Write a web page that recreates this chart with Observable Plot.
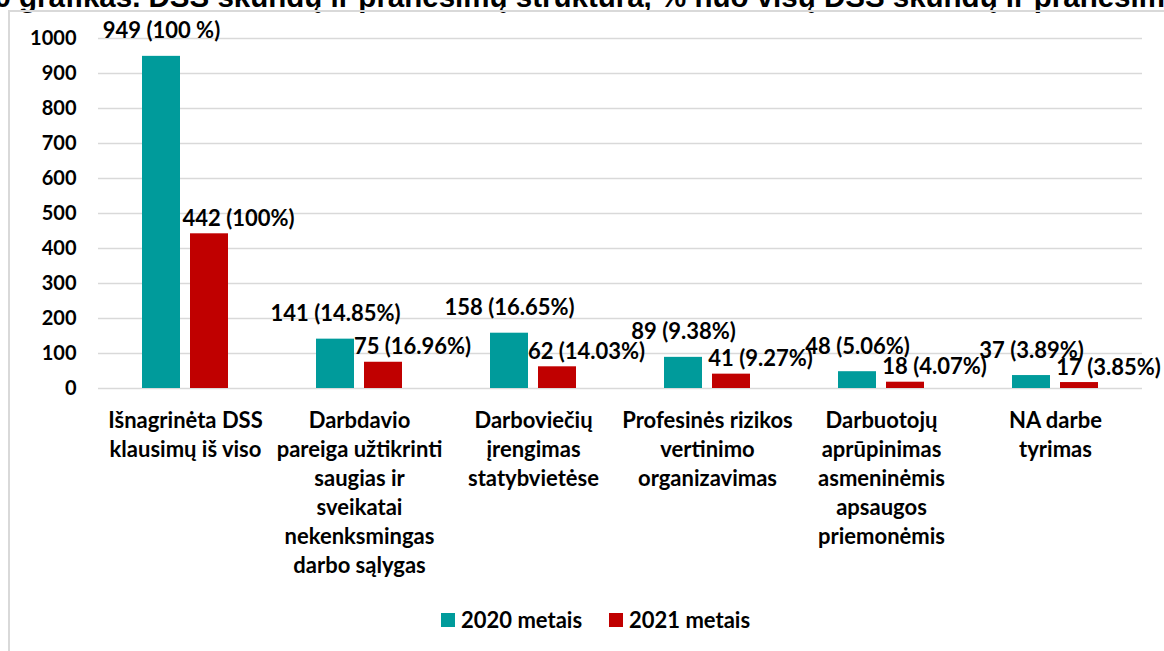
<!DOCTYPE html>
<html>
<head>
<meta charset="utf-8">
<script src="https://cdn.jsdelivr.net/npm/d3@7"></script>
<script src="https://cdn.jsdelivr.net/npm/@observablehq/plot@0.6"></script>
<style>
  html, body { margin: 0; padding: 0; background: #fff; }
  body { width: 1164px; height: 651px; position: relative; overflow: hidden; font-family: Lato, sans-serif; }
  #title { position: absolute; left: -22px; top: -18px; white-space: nowrap; font: bold 29.5px "Liberation Sans", Arial, sans-serif; line-height: 29px; color: #000; }
  #frame { position: absolute; left: 8px; top: 10px; width: 1300px; height: 800px; border-left: 2px solid #d9d9d9; border-top: 2px solid #d9d9d9; }
  #chart { position: absolute; left: 0; top: 0; }
  #legend { position: absolute; left: 441px; top: 606px; display: flex; align-items: center; font: bold 22px Lato, sans-serif; color: #000; }
  .item { display: flex; align-items: center; margin-right: 27px; }
  .sw { width: 14px; height: 14px; margin-right: 6px; }
</style>
</head>
<body>
<div id="title">10 grafikas. DSS skundų ir pranešimų struktūra, % nuo visų DSS skundų ir pranešimų</div>
<div id="frame"></div>
<div id="chart"></div>
<div id="legend"></div>
<script>
const categories = [
  "Išnagrinėta DSS\nklausimų iš viso",
  "Darbdavio\npareiga užtikrinti\nsaugias ir\nsveikatai\nnekenksmingas\ndarbo sąlygas",
  "Darboviečių\nįrengimas\nstatybvietėse",
  "Profesinės rizikos\nvertinimo\norganizavimas",
  "Darbuotojų\naprūpinimas\nasmeninėmis\napsaugos\npriemonėmis",
  "NA darbe\ntyrimas"
];
const years = ["2020 metais", "2021 metais"];
const values2020 = [949, 141, 158, 89, 48, 37];
const values2021 = [442, 75, 62, 41, 18, 17];
const labels2020 = ["949 (100 %)", "141 (14.85%)", "158 (16.65%)", "89 (9.38%)", "48 (5.06%)", "37 (3.89%)"];
const labels2021 = ["442 (100%)", "75 (16.96%)", "62 (14.03%)", "41 (9.27%)", "18 (4.07%)", "17 (3.85%)"];
const yTicks = [0, 100, 200, 300, 400, 500, 600, 700, 800, 900, 1000];
const colors = ["#009B9B", "#C00000"];

const rows = categories.flatMap((c, i) => [
  {cat: c, year: years[0], value: values2020[i], label: labels2020[i]},
  {cat: c, year: years[1], value: values2021[i], label: labels2021[i]}
]);

const chart = Plot.plot({
  width: 1164,
  height: 600,
  marginTop: 38,
  marginBottom: 212,
  marginLeft: 97,
  marginRight: 22,
  style: {fontFamily: "Lato, sans-serif", fontWeight: "bold", fontSize: "22px", color: "#000", background: "transparent", overflow: "visible"},
  fx: {domain: categories, padding: 0, axis: null, label: null},
  x: {domain: years, paddingInner: 0.204, paddingOuter: 0.878, axis: null, label: null},
  y: {domain: [0, 1000], label: null},
  color: {domain: years, range: colors},
  marks: [
    Plot.gridY(yTicks, {stroke: "#d9d9d9", strokeOpacity: 1, strokeWidth: 1.5}),
    Plot.axisY(yTicks, {tickSize: 0, tickPadding: 22, label: null, fontSize: 20, tickFormat: d => String(d)}),
    Plot.barY(rows, {fx: "cat", x: "year", y: "value", fill: "year"}),
    Plot.text(rows.filter(d => d.year === years[0]), {fx: "cat", x: "year", y: "value", text: "label", dy: -25}),
    Plot.text(rows.filter(d => d.year === years[1]), {fx: "cat", x: "year", y: "value", text: "label", dx: 29, dy: -15}),
    Plot.text(categories, {fx: d => d, text: d => d, frameAnchor: "bottom", lineAnchor: "top", dy: 19, lineHeight: 1.32})
  ]
});
document.getElementById("chart").appendChild(chart);

const legend = document.getElementById("legend");
years.forEach((y, i) => {
  const it = document.createElement("div");
  it.className = "item";
  const sw = document.createElement("div");
  sw.className = "sw";
  sw.style.background = colors[i];
  const t = document.createElement("span");
  t.textContent = y;
  it.appendChild(sw);
  it.appendChild(t);
  legend.appendChild(it);
});
</script>
</body>
</html>
